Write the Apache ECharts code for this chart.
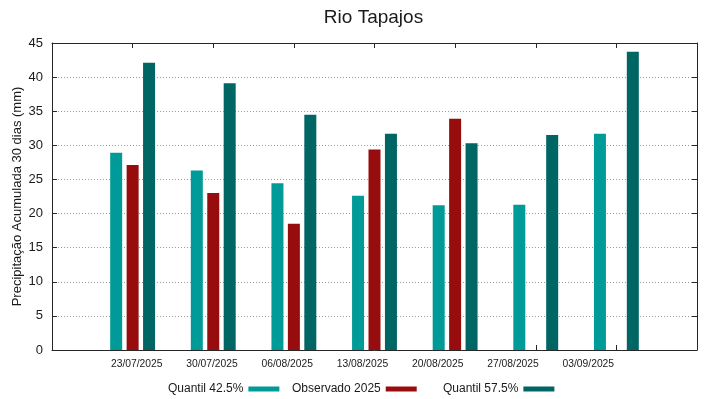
<!DOCTYPE html>
<html>
<head>
<meta charset="utf-8">
<script src="https://cdn.jsdelivr.net/npm/echarts@6/dist/echarts.min.js"></script>
<style>html,body{margin:0;padding:0;background:#fff;}#c{width:719px;height:399px;}</style>
</head>
<body>
<div id="c"></div>
<script>
const dates = ['23/07/2025','30/07/2025','06/08/2025','13/08/2025','20/08/2025','27/08/2025','03/09/2025'];
const q425 = [28.9, 26.3, 24.45, 22.6, 21.2, 21.3, 31.7];
const obs2025 = [27.1, 23.0, 18.5, 29.4, 33.9, null, null];
const q575 = [42.1, 39.1, 34.5, 31.7, 30.3, 31.5, 43.7];
const yTicks = [0, 5, 10, 15, 20, 25, 30, 35, 40, 45];
const names = ['Quantil 42.5%', 'Observado 2025', 'Quantil 57.5%'];
const colors = ['#009b98', '#970d0d', '#006663'];

const font = 'Liberation Sans, Arial, sans-serif';
const frame = '#262626';
const slots = [''].concat(dates, ['']);
const pad = a => [null].concat(a, [null]);
const inner = (i) => i > 0 && i < slots.length - 1;

const chart = echarts.init(document.getElementById('c'), null, {renderer: 'canvas'});
const legendAt = (name, left) => ({
  data: [name], left: left, top: 383, align: 'right', orient: 'horizontal', padding: 0,
  icon: 'rect', itemWidth: 31, itemHeight: 5,
  textStyle: {fontFamily: font, fontSize: 12, color: '#1a1a1a'},
  selectedMode: false
});
chart.setOption({
  animation: false,
  textStyle: {fontFamily: font},
  title: {
    text: 'Rio Tapajos', left: 368.5, top: 3, textAlign: 'center',
    textStyle: {fontFamily: font, fontSize: 19, fontWeight: 'normal', color: '#1a1a1a'}
  },
  legend: [legendAt(names[0], 168), legendAt(names[1], 292), legendAt(names[2], 443)],
  grid: [
    {left: 52, right: 22, top: 43, bottom: 49, outerBoundsMode: 'none', containLabel: false},
    {left: 136.7, right: 130.7, top: 43, bottom: 49, outerBoundsMode: 'none', containLabel: false}
  ],
  xAxis: [
    {
      type: 'category', gridIndex: 0, data: slots, boundaryGap: false, position: 'bottom',
      axisLine: {show: true, onZero: false, lineStyle: {color: frame, width: 1}},
      axisTick: {show: true, inside: true, length: 5, interval: inner, lineStyle: {color: frame}},
      axisLabel: {show: false}, splitLine: {show: false}
    },
    {
      type: 'category', gridIndex: 0, data: slots, boundaryGap: false, position: 'top',
      axisLine: {show: true, onZero: false, lineStyle: {color: frame, width: 1}},
      axisTick: {show: true, inside: true, length: 5, interval: inner, lineStyle: {color: frame}},
      axisLabel: {show: false}, splitLine: {show: false}
    },
    {
      type: 'category', gridIndex: 1, data: dates, boundaryGap: false, position: 'bottom',
      axisLine: {show: false, onZero: false}, axisTick: {show: false}, splitLine: {show: false},
      axisLabel: {show: true, interval: 0, fontSize: 10.3, color: '#1a1a1a', margin: 9, fontFamily: font}
    }
  ],
  yAxis: [
    {
      type: 'value', gridIndex: 0, min: 0, max: 45, interval: 5, position: 'left',
      name: 'Precipitação Acumulada 30 dias (mm)', nameLocation: 'middle', nameGap: 28,
      nameMoveOverlap: false,
      nameTextStyle: {fontFamily: font, fontSize: 13, color: '#1a1a1a'},
      axisLine: {show: true, onZero: false, lineStyle: {color: frame, width: 1}},
      axisTick: {show: true, inside: true, length: 5, lineStyle: {color: frame}},
      axisLabel: {fontSize: 13, color: '#1a1a1a', margin: 9, fontFamily: font},
      splitLine: {show: true, lineStyle: {color: '#9a9a9a', type: [1, 2], width: 1}}
    },
    {
      type: 'value', gridIndex: 0, min: 0, max: 45, interval: 5, position: 'right',
      axisLine: {show: true, onZero: false, lineStyle: {color: frame, width: 1}},
      axisTick: {show: true, inside: true, length: 5, lineStyle: {color: frame}},
      axisLabel: {show: false}, splitLine: {show: false}
    },
    {type: 'value', gridIndex: 1, show: false, min: 0, max: 45}
  ],
  series: [q425, obs2025, q575].map((arr, i) => ({
    name: names[i], type: 'bar', xAxisIndex: 0, yAxisIndex: 0,
    data: pad(arr), barWidth: 12, barGap: '37%',
    itemStyle: {color: colors[i]}
  }))
});
</script>
</body>
</html>
